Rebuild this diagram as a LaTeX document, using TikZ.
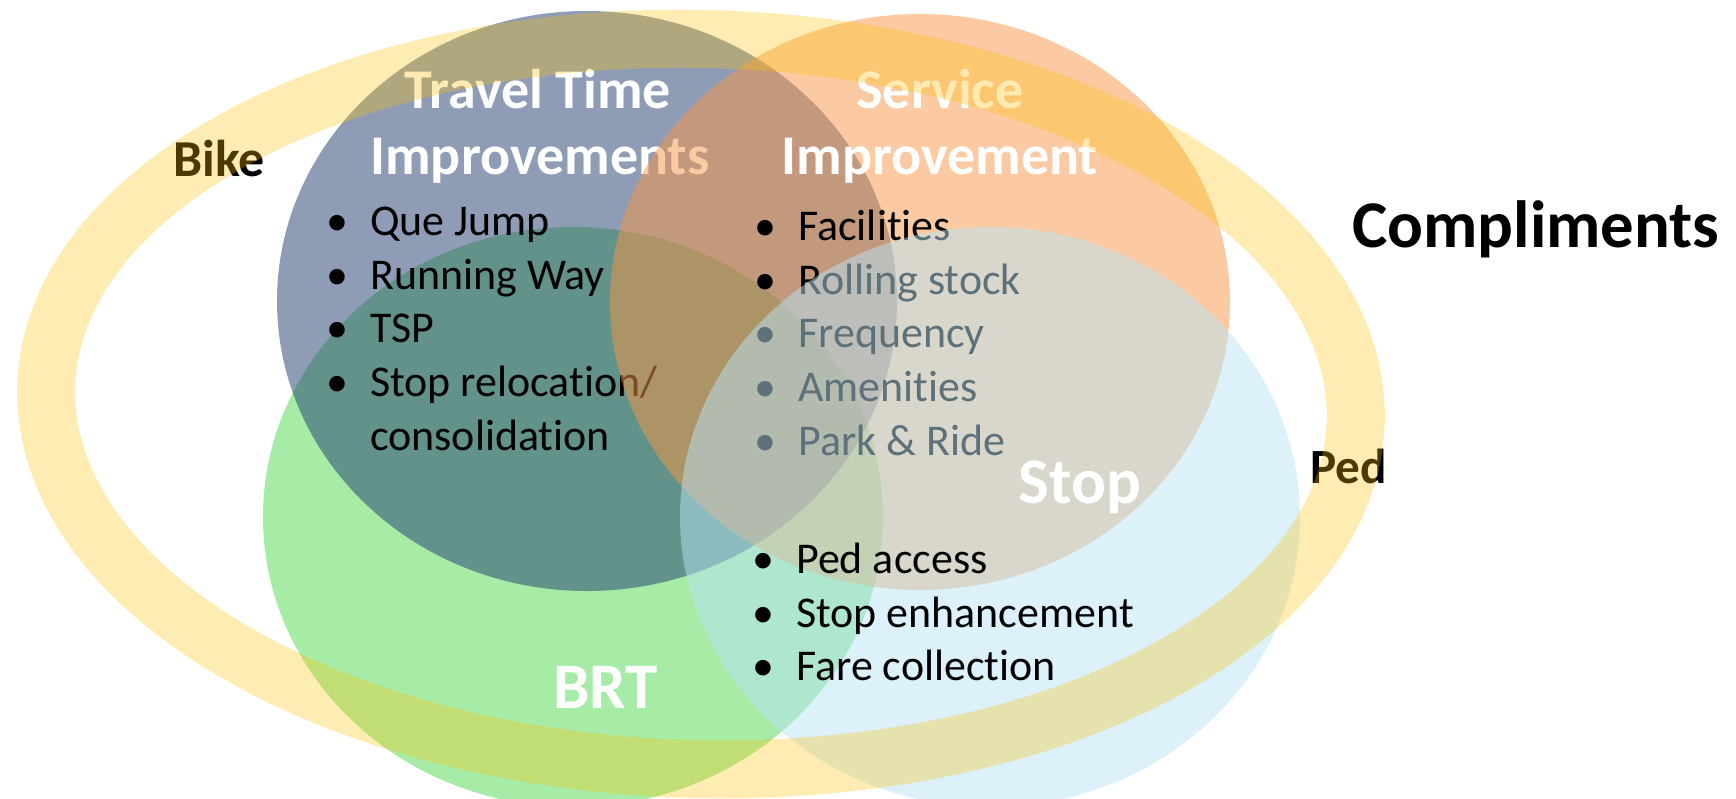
\documentclass[tikz,border=0pt]{standalone}
\usepackage{fontspec}
\setmainfont{Carlito}[Ligatures={NoRequired,NoCommon,NoContextual}]
\usetikzlibrary{matrix}

\definecolor{ttblue}{RGB}{30,58,110}
\definecolor{brtgreen}{RGB}{0,200,0}
\definecolor{sipeach}{RGB}{247,150,70}
\definecolor{stopblue}{RGB}{185,227,245}
\definecolor{ringgold}{RGB}{255,192,0}

\tikzset{
  venn/.style={fill=#1, fill opacity=0.5},
  head/.style={inner sep=0pt, anchor=base, text=white, font=\fontsize{31.9}{38}\selectfont\bfseries},
  big/.style={inner sep=0pt, anchor=base west, text=white, font=\fontsize{37}{44}\selectfont\bfseries},
  modetag/.style={inner sep=0pt, anchor=base west, font=\fontsize{#1}{40}\selectfont\bfseries},
  bullets/.style={matrix of nodes, anchor=north west, inner sep=0pt, column sep=12.5pt,
    nodes={inner sep=0pt, anchor=base west, text height=21.3pt, text depth=9.2pt,
      font=\fontsize{25}{30}\selectfont},
    column 1/.style={nodes={anchor=base, minimum width=12.5pt}}}
}

\begin{document}
\begin{tikzpicture}[x=0.02cm, y=-0.02cm]
\useasboundingbox (0,0) rectangle (1736,798);
\fill[venn=brtgreen, fill opacity=0.35] (573,517) ellipse [x radius=310, y radius=290];
\fill[venn=ttblue] (587,301) ellipse [x radius=310, y radius=290];
\node[head] (tt1) at (538,108) {Travel Time};
\node[head] (tt2) at (540,174) {Improvements};
\matrix (ttlist) [bullets] at (326,198) {
\textbullet & Que Jump \\
\textbullet & Running Way \\
\textbullet & TSP \\
\textbullet & Stop relocation/ \\
 & consolidation \\
};
\fill[venn=sipeach] (920,302) ellipse [x radius=310, y radius=288];
\node[head] (si1) at (940,108) {Service};
\node[head] (si2) at (940,174) {Improvement};
\matrix (silist) [bullets] at (754,203) {
\textbullet & Facilit{}ies \\
\textbullet & Rolling stock \\
\textbullet & Frequency \\
\textbullet & Amenit{}ies \\
\textbullet & Park \& Ride \\
};
\fill[venn=stopblue] (990,517) ellipse [x radius=310, y radius=290];
\matrix (stoplist) [bullets] at (752,536) {
\textbullet & Ped access \\
\textbullet & Stop enhancement \\
\textbullet & Fare collection \\
};
\node[big] (brt) at (553,708) {BRT};
\node[big] (stop) at (1018,503) {Stop};
\node[modetag=29.5] (bike) at (173,176) {Bike};
\node[modetag=28] (ped) at (1310,483) {Ped};
\draw[ringgold, draw opacity=0.3, line width=1.16cm, rotate around={-1.5:(701,404)}] (701,404) ellipse [x radius=655, y radius=365];
\node[modetag=38] (comp) at (1352,247) {Compliments};
\end{tikzpicture}
\end{document}
